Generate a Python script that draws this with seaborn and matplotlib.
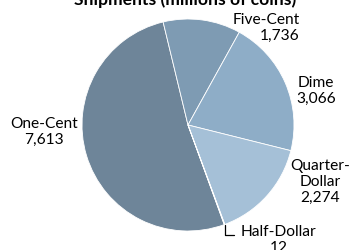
import matplotlib
matplotlib.use("Agg")
import matplotlib.pyplot as plt
import numpy as np
import seaborn as sns

# 동전 출하량 (백만 개)
coin_types = ["One-Cent", "Five-Cent", "Dime", "Quarter-\nDollar", "Half-Dollar"]
shipments = [7613, 1736, 3066, 2274, 12]
slice_colors = ["#6E8599", "#7E9BB3", "#8EADC7", "#A5C0D7", "#B7CEE1"]
TITLE = "Shipments (millions of coins)"

W, H = 352, 251
CENTER = (188, 125)
RADIUS = 106


def main() -> None:
    sns.set_theme(style="white")
    plt.rcParams["font.family"] = ["Lato", "DejaVu Sans"]

    fig = plt.figure(figsize=(W / 100, H / 100), dpi=100)
    ax = fig.add_axes([0, 0, 1, 1])

    wedges, _ = ax.pie(
        shipments,
        colors=sns.color_palette(slice_colors),
        startangle=-70,
        counterclock=False,
        center=CENTER,
        radius=RADIUS,
        wedgeprops={"edgecolor": "white", "linewidth": 0.6},
    )
    ax.set_xlim(0, W)
    ax.set_ylim(0, H)
    ax.set_aspect("equal")
    ax.axis("off")

    # 라벨 위치 (픽셀 좌표, 아래쪽 기준)
    label_pos = [(44, 119), (266, 223), (316, 160), (320, 69), (279, 11)]
    label_align = ["center", "right", "center", "center", "center"]
    style = dict(fontsize=11.2, color="black", linespacing=1.2)
    for i, (name, val) in enumerate(zip(coin_types, shipments)):
        x, y = label_pos[i]
        txt = f"{name}\n{val:,}"
        if i == 4:
            w = wedges[i]
            ang = np.deg2rad((w.theta1 + w.theta2) / 2)
            edge = (CENTER[0] + RADIUS * np.cos(ang), CENTER[1] + RADIUS * np.sin(ang))
            ax.annotate(
                txt, xy=edge, xytext=(x, y), ha="center", va="center",
                arrowprops=dict(arrowstyle="-", color="black", lw=0.9,
                                connectionstyle="angle,angleA=0,angleB=90,rad=0",
                                relpos=(0, 0.62), shrinkA=3, shrinkB=0),
                **style,
            )
        else:
            ax.text(x, y, txt, ha="center", va="center", multialignment=label_align[i], **style)

    ax.text(185, H - 5, TITLE, ha="center", va="baseline", fontsize=12.6,
            fontweight="bold", color="black")

    fig.savefig("out.png", dpi=100)
    plt.close(fig)


if __name__ == "__main__":
    main()
